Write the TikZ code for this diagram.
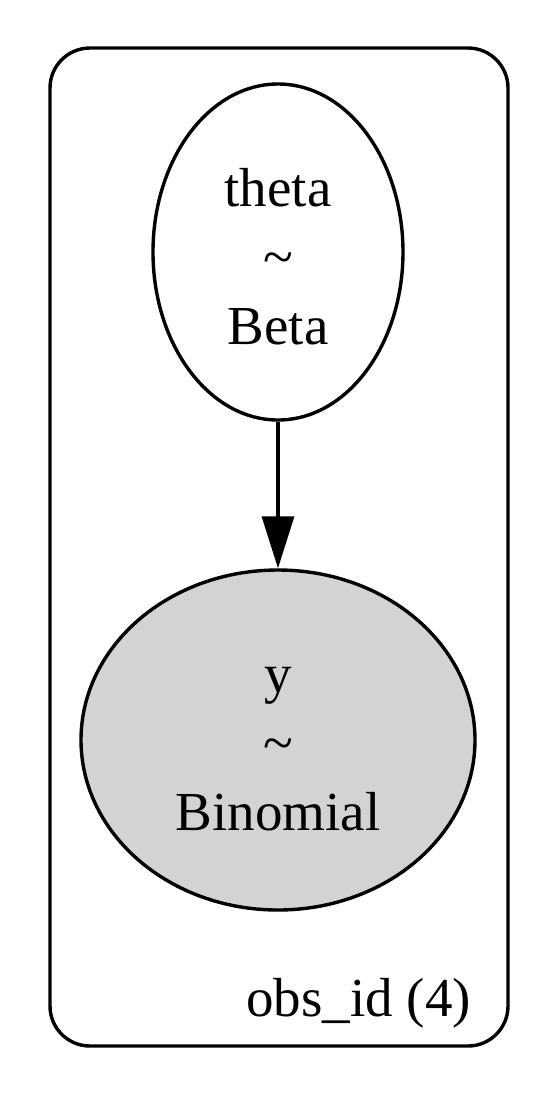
\documentclass[tikz,border=0pt]{standalone}
\usepackage{fontspec}
\setmainfont{Liberation Serif}
\usetikzlibrary{shapes.geometric,arrows.meta}

\newcommand{\distsep}{{\char"7E}}

\begin{document}
\begin{tikzpicture}[x=1pt, y=-1pt, line width=3.4pt,
    every node/.style={font=\fontsize{55}{69}\selectfont, align=center},
    randvar/.style={draw, ellipse, inner sep=0pt},
    observed/.style={randvar, fill={rgb,255:red,211;green,211;blue,211}},
    plate/.style={draw, rounded corners=40pt}]
    \useasboundingbox (0,0) rectangle (558,1096);
    % Plate
    \draw[plate] (50,48) rectangle (508,1046);
    \node[anchor=base east] (platelabel) at (476,1016) {obs\_id (4)};
    % Variables
    \node[randvar, minimum width=250pt, minimum height=336pt] (theta) at (278,252) {};
    \node (thetatext) at (278,257) {theta\\\distsep\\Beta};
    \node[observed, minimum width=394pt, minimum height=340pt] (y) at (278,740) {};
    \node (ytext) at (278,749) {y\\\distsep\\Binomial};
    % Edge
    \draw[-{Triangle[length=52pt,width=32pt]}] (theta) -- (y);
\end{tikzpicture}
\end{document}
